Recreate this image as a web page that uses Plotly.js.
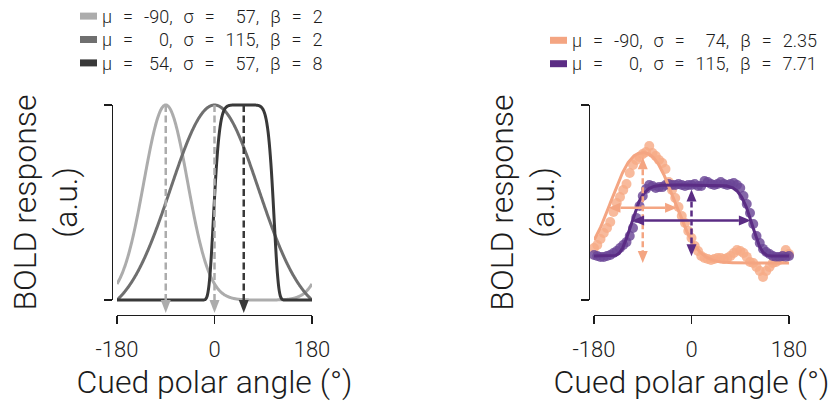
<!DOCTYPE html>
<html>
<head>
<meta charset="utf-8">
<script src="https://cdn.plot.ly/plotly-3.0.1.min.js"></script>
<style>
  html, body { margin: 0; padding: 0; background: #ffffff; }
  #chart { width: 835px; height: 411px; }
</style>
</head>
<body>
<div id="chart"></div>
<script>
// ---- Model tuning profiles (left panel): generalized Gaussians ----
const modelMu = [-90, 0, 54];
const modelSigma = [57, 115, 57];
const modelBeta = [2, 2, 8];

// ---- Fitted profiles (right panel) ----
const fitMu = [-90, 0];
const fitSigma = [74, 115];
const fitBeta = [2.35, 7.71];
const fitBaseline = [0.19, 0.225];
const fitAmplitude = [0.565, 0.365];

// ---- Measured BOLD response per cued polar angle (right panel) ----
const cueAngle = [
  -180, -174, -168, -162, -156, -150, -144, -138, -132, -126, -120,
  -114, -108, -102, -96, -90, -84, -78, -72, -66, -60,
  -54, -48, -42, -36, -30, -24, -18, -12, -6, 0,
  6, 12, 18, 24, 30, 36, 42, 48, 54, 60,
  66, 72, 78, 84, 90, 96, 102, 108, 114, 120,
  126, 132, 138, 144, 150, 156, 162, 168, 174, 180
];
const respOrange = [
  0.267, 0.282, 0.313, 0.344, 0.369, 0.400, 0.451, 0.497, 0.528, 0.564, 0.595,
  0.651, 0.692, 0.718, 0.733, 0.749, 0.759, 0.790, 0.754, 0.738, 0.718,
  0.703, 0.672, 0.605, 0.564, 0.523, 0.477, 0.431, 0.395, 0.354, 0.318,
  0.277, 0.251, 0.226, 0.215, 0.210, 0.205, 0.210, 0.215, 0.215, 0.210,
  0.215, 0.226, 0.241, 0.256, 0.251, 0.241, 0.221, 0.195, 0.190, 0.169,
  0.149, 0.118, 0.149, 0.169, 0.190, 0.195, 0.205, 0.226, 0.256, 0.236
];
const respPurple = [
  0.231, 0.226, 0.221, 0.221, 0.226, 0.231, 0.241, 0.251, 0.267, 0.282, 0.297,
  0.328, 0.369, 0.421, 0.482, 0.533, 0.569, 0.590, 0.585, 0.574, 0.579,
  0.579, 0.590, 0.595, 0.590, 0.590, 0.595, 0.590, 0.585, 0.590, 0.590,
  0.595, 0.585, 0.585, 0.610, 0.605, 0.595, 0.590, 0.595, 0.605, 0.595,
  0.590, 0.595, 0.600, 0.590, 0.574, 0.533, 0.492, 0.446, 0.390, 0.328,
  0.292, 0.262, 0.246, 0.236, 0.226, 0.221, 0.221, 0.226, 0.221, 0.226
];

const xTickVals = [-180, 0, 180];
const xTickText = ['-180', '0', '180'];

// ---- Styling ----
const FONT = 'Roboto, "Liberation Sans", sans-serif';
const INK = '#1c1c1c';
const modelColors = ['#acacac', '#6f6f6f', '#393939'];
const modelArrowColors = ['#acacac', '#acacac', '#393939'];
const fitColors = ['#f4a582', '#5b2c84'];
const pointColors = ['#f6ab86', '#6a4596'];

// ---- Figure geometry (pixels) ----
const W = 835, H = 411;
const fx = p => p / W;
const fy = p => 1 - p / H;
const panelX = [[117, 312], [594, 789]];
const spineX = [112, 589];
const yTop = 105, yBot = 300;      // value 1 and value 0
const xLineY = 315;                 // offset x-axis line
const areaTop = 90, areaBot = 335;  // drawing area of each panel
const pxPerUnit = yBot - yTop;
const yRangeMain = [(yBot - areaBot) / pxPerUnit, (yBot - areaTop) / pxPerUnit];
const kx = 360 / (panelX[0][1] - panelX[0][0]); // degrees per pixel
const ky = 1 / pxPerUnit;                        // units per pixel

// generalized Gaussian, optionally on the circle
function genGauss(x, mu, sigma, beta, wrap) {
  let d = Math.abs(x - mu);
  if (wrap) d = Math.min(d, 360 - d);
  return Math.exp(-Math.pow(d / sigma, beta));
}

// filled triangular arrow head, tip at (tx, ty)
function head(xr, yr, tx, ty, dir, len, half, color) {
  let p;
  if (dir === 'down') p = [[tx, ty], [tx - half * kx, ty + len * ky], [tx + half * kx, ty + len * ky]];
  if (dir === 'up') p = [[tx, ty], [tx - half * kx, ty - len * ky], [tx + half * kx, ty - len * ky]];
  if (dir === 'left') p = [[tx, ty], [tx + len * kx, ty + half * ky], [tx + len * kx, ty - half * ky]];
  if (dir === 'right') p = [[tx, ty], [tx - len * kx, ty + half * ky], [tx - len * kx, ty - half * ky]];
  return {
    type: 'path', xref: xr, yref: yr, layer: 'above',
    path: 'M' + p.map(q => q[0] + ',' + q[1]).join('L') + 'Z',
    fillcolor: color, line: {width: 0}
  };
}

const traces = [];
const shapes = [];
const annotations = [];

// fine angle grid on which the models are evaluated
const grid = [];
for (let a = -180; a <= 180; a += 1) grid.push(a);

// ---- Left panel: model profiles, rescaled to [0, 1] ----
modelMu.forEach((mu, i) => {
  const raw = grid.map(a => genGauss(a, mu, modelSigma[i], modelBeta[i], true));
  const lo = Math.min(...raw), hi = Math.max(...raw);
  traces.push({
    x: grid, y: raw.map(v => (v - lo) / (hi - lo)),
    xaxis: 'x', yaxis: 'y', mode: 'lines', hoverinfo: 'skip', showlegend: false,
    line: {color: modelColors[i], width: 3, shape: 'spline'}
  });
});
modelMu.forEach((mu, i) => {
  const tipY = -13 * ky;
  traces.push({
    x: [mu, mu], y: [1, tipY + 13 * ky],
    xaxis: 'x', yaxis: 'y', mode: 'lines', hoverinfo: 'skip', showlegend: false,
    line: {color: modelArrowColors[i], width: 2.5, dash: '7px,3.5px'}
  });
  shapes.push(head('x', 'y', mu, tipY, 'down', 13, 5, modelArrowColors[i]));
});

// ---- Right panel: measured points, fits and width / amplitude arrows ----
[respOrange, respPurple].forEach((resp, i) => {
  traces.push({
    x: cueAngle, y: resp, xaxis: 'x2', yaxis: 'y2', mode: 'markers',
    cliponaxis: false, hoverinfo: 'skip', showlegend: false,
    marker: {color: pointColors[i], size: 10, opacity: 0.82, line: {width: 0}}
  });
});
fitMu.forEach((mu, i) => {
  traces.push({
    x: grid,
    y: grid.map(a => fitBaseline[i] + fitAmplitude[i] * genGauss(a, mu, fitSigma[i], fitBeta[i], false)),
    xaxis: 'x2', yaxis: 'y2', mode: 'lines', hoverinfo: 'skip', showlegend: false,
    line: {color: fitColors[i], width: 3}
  });
});
fitMu.forEach((mu, i) => {
  const c = fitColors[i];
  const base = fitBaseline[i], peak = fitBaseline[i] + fitAmplitude[i];
  // amplitude: dashed vertical double arrow
  const topTip = peak - 4.5 * ky, botTip = base;
  traces.push({
    x: [mu, mu], y: [topTip - 12 * ky, botTip + 12 * ky],
    xaxis: 'x2', yaxis: 'y2', mode: 'lines', hoverinfo: 'skip', showlegend: false,
    line: {color: c, width: 2.5, dash: '6px,3px'}
  });
  shapes.push(head('x2', 'y2', mu, topTip, 'up', 12, 5, c));
  shapes.push(head('x2', 'y2', mu, botTip, 'down', 12, 5, c));
  // full width at half maximum: solid horizontal double arrow
  const hw = fitSigma[i] * Math.pow(Math.LN2, 1 / fitBeta[i]);
  const half = base + fitAmplitude[i] / 2;
  traces.push({
    x: [mu - hw + 12 * kx, mu + hw - 12 * kx], y: [half, half],
    xaxis: 'x2', yaxis: 'y2', mode: 'lines', hoverinfo: 'skip', showlegend: false,
    line: {color: c, width: 2.5}
  });
  shapes.push(head('x2', 'y2', mu - hw, half, 'left', 12, 5, c));
  shapes.push(head('x2', 'y2', mu + hw, half, 'right', 12, 5, c));
});

// invisible anchors for the bracket-style y spines
traces.push({x: [0], y: [0.5], xaxis: 'x', yaxis: 'y3', mode: 'markers',
  marker: {opacity: 0}, hoverinfo: 'skip', showlegend: false});
traces.push({x: [0], y: [0.5], xaxis: 'x2', yaxis: 'y4', mode: 'markers',
  marker: {opacity: 0}, hoverinfo: 'skip', showlegend: false});

// ---- Legends: one text block per panel, colour patch per row ----
const FIG = '\u2007', PUNC = '\u2008', SP = '\u2002\u200A';
const LEG_SIZE = 18, LEG_LINE = 1.3 * LEG_SIZE;
function column(vals) {
  const s = vals.map(v => String(v));
  const digits = s.map(t => t.replace('-', '').length);
  const maxD = Math.max(...digits);
  const anyNeg = s.some(t => t.startsWith('-'));
  return s.map((t, k) => (anyNeg && !t.startsWith('-') ? PUNC : '') + FIG.repeat(maxD - digits[k]) + t);
}
function labels(mu, sigma, beta) {
  const m = column(mu), s = column(sigma);
  return mu.map((_, k) => 'μ' + SP + '=' + SP + m[k] + ',' + SP + 'σ' + SP + '=' + SP + s[k] +
    ',' + SP + 'β' + SP + '=' + SP + beta[k]);
}
const legendSets = [
  {text: labels(modelMu, modelSigma, modelBeta), colors: modelColors, center: 39.5, patch: [80, 97]},
  {text: labels(fitMu, fitSigma, fitBeta), colors: fitColors, center: 52, patch: [550, 567]}
];
legendSets.forEach(L => {
  const n = L.text.length;
  L.text.forEach((t, k) => {
    const rowY = L.center + (k - (n - 1) / 2) * LEG_LINE;
    shapes.push({type: 'rect', xref: 'paper', yref: 'paper',
      x0: fx(L.patch[0]), x1: fx(L.patch[1]), y0: fy(rowY + 3.5), y1: fy(rowY - 3.5),
      fillcolor: L.colors[k], line: {width: 0}});
  });
  annotations.push({xref: 'paper', yref: 'paper', x: fx(L.patch[1] + 3), y: fy(L.center),
    xanchor: 'left', yanchor: 'middle', align: 'left', showarrow: false,
    text: L.text.join('<br>'),
    font: {family: FONT, size: LEG_SIZE, weight: 300, color: INK}});
});

// ---- Axes ----
function xAxis(i) {
  return {
    domain: [fx(panelX[i][0]), fx(panelX[i][1])], range: [-180, 180],
    anchor: 'free', position: fy(xLineY),
    showline: true, linecolor: INK, linewidth: 1.3,
    ticks: 'outside', ticklen: 8, tickwidth: 1.3, tickcolor: INK,
    tickvals: xTickVals, ticktext: xTickText, ticklabelstandoff: 6,
    tickfont: {family: FONT, size: 22, weight: 300, color: INK},
    showgrid: false, zeroline: false, fixedrange: true, automargin: false,
    title: {text: 'Cued polar angle (°)', standoff: 10,
      font: {family: FONT, size: 32, weight: 300, color: INK}}
  };
}
function yMain(i) {
  return {domain: [fy(areaBot), fy(areaTop)], range: yRangeMain, visible: false,
    anchor: i === 0 ? 'x' : 'x2', fixedrange: true};
}
function ySpine(i) {
  return {
    domain: [fy(yBot), fy(yTop)], range: [0, 1], anchor: 'free', position: fx(spineX[i]),
    showline: true, linecolor: INK, linewidth: 1.3,
    ticks: 'outside', ticklen: 8, tickwidth: 1.3, tickcolor: INK,
    tickvals: [0, 1], showticklabels: false,
    showgrid: false, zeroline: false, fixedrange: true, automargin: false,
    title: {text: 'BOLD response<br>(a.u.)', standoff: 15,
      font: {family: FONT, size: 32, weight: 300, color: INK}}
  };
}

const layout = {
  width: W, height: H,
  margin: {l: 0, r: 0, t: 0, b: 0, pad: 0},
  paper_bgcolor: '#ffffff', plot_bgcolor: 'rgba(0,0,0,0)',
  showlegend: false,
  font: {family: FONT, color: INK},
  xaxis: xAxis(0), xaxis2: xAxis(1),
  yaxis: yMain(0), yaxis2: yMain(1),
  yaxis3: ySpine(0), yaxis4: ySpine(1),
  shapes: shapes, annotations: annotations
};

Plotly.newPlot('chart', traces, layout, {displayModeBar: false, staticPlot: true});
</script>
</body>
</html>
